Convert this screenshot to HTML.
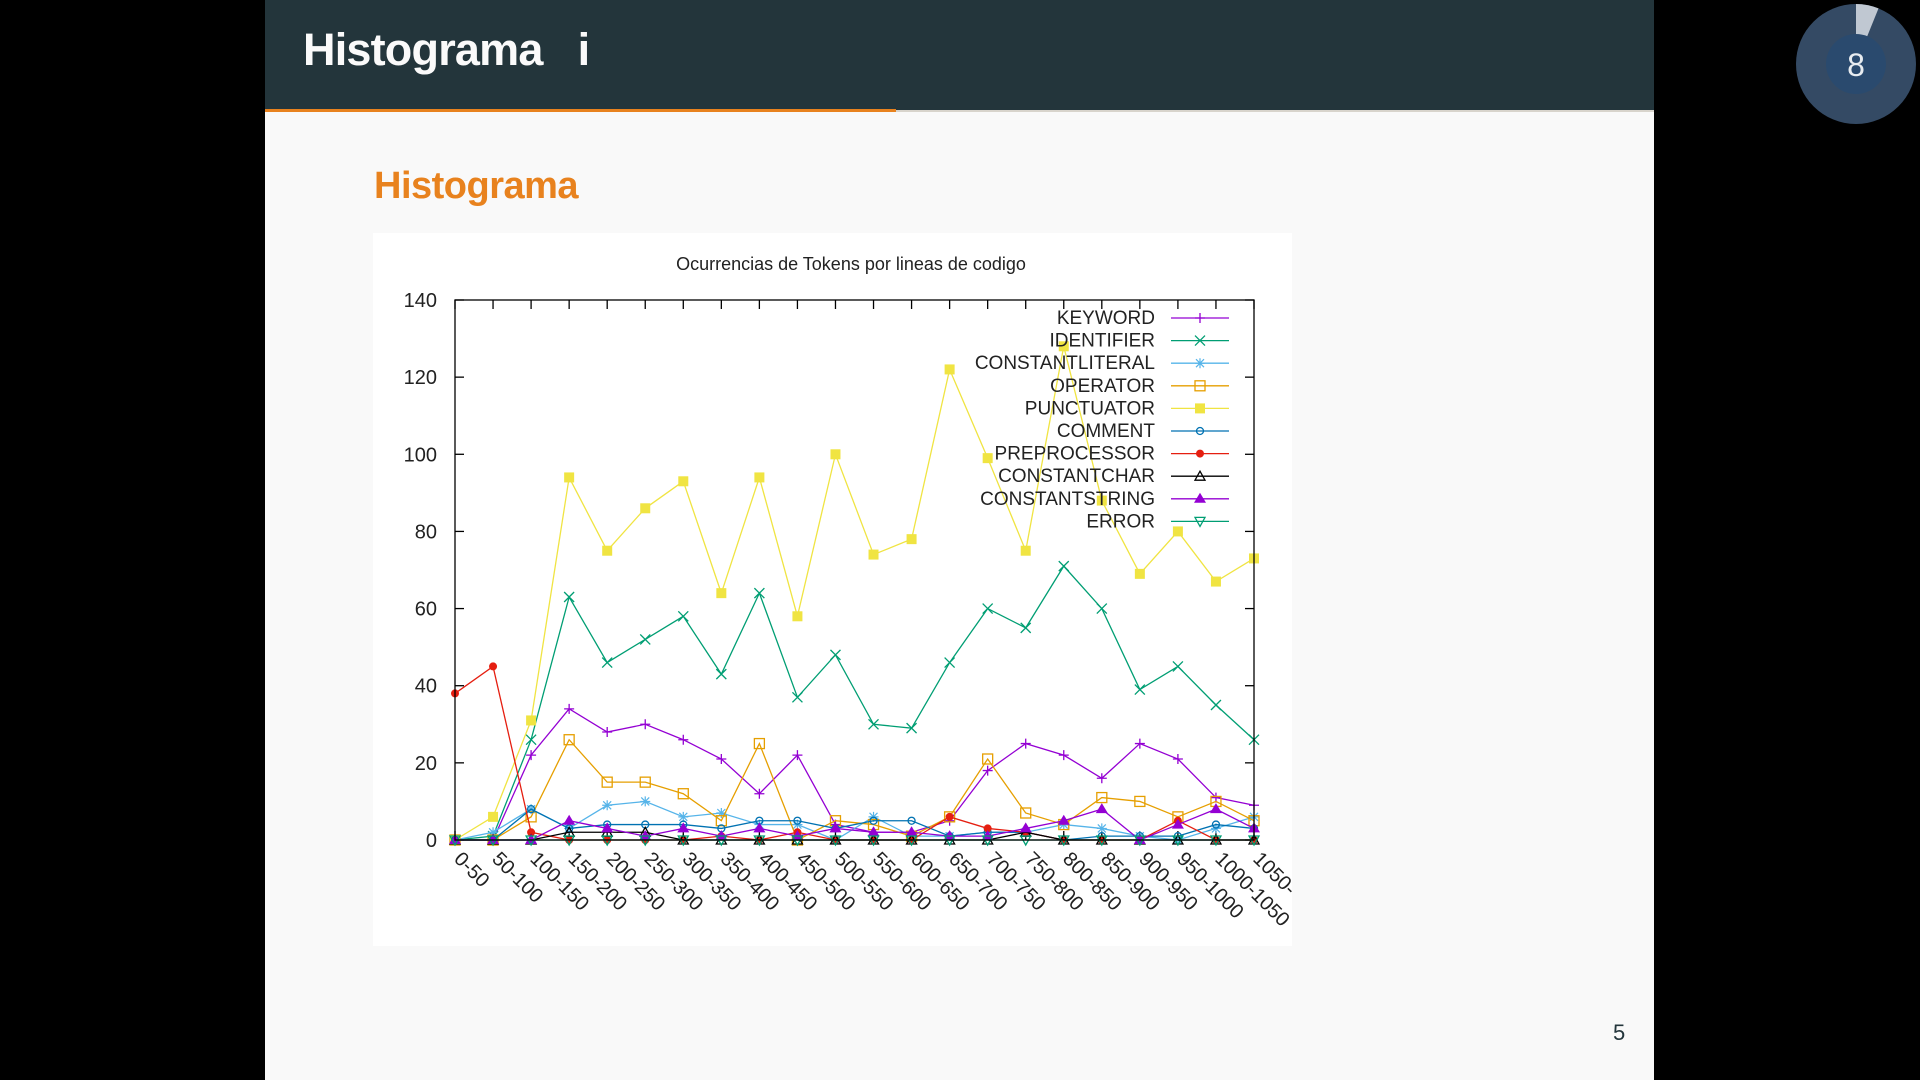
<!DOCTYPE html>
<html><head><meta charset="utf-8">
<style>
html,body{margin:0;padding:0;width:1920px;height:1080px;background:#000;overflow:hidden;font-family:"Liberation Sans","DejaVu Sans",sans-serif;}
#slide{position:absolute;left:265px;top:0;width:1389px;height:1080px;background:#f9f9f9;}
#header{position:absolute;left:0;top:0;width:1389px;height:110px;background:#23353b;}
#title{position:absolute;left:38px;top:24px;color:#fafafa;font-size:45px;font-weight:bold;letter-spacing:-0.8px;}
#rule-o{position:absolute;left:0;top:109px;width:631px;height:3px;background:#e8821e;}
#rule-g{position:absolute;left:631px;top:110px;width:758px;height:2px;background:#d8d4cc;}
#h2{position:absolute;left:109px;top:165px;color:#e8821e;font-size:38px;font-weight:bold;letter-spacing:-0.5px;}
#chartbox{position:absolute;left:108px;top:233px;width:919px;height:713px;background:#fff;}
#pnum{position:absolute;left:1348px;top:1020px;font-size:22px;color:#23353b;}
svg text{font-family:"Liberation Sans","DejaVu Sans",sans-serif;}
</style></head><body>
<div id="slide">
 <div id="header">
  <div id="title">Histograma&nbsp;&nbsp; i</div>
 </div>
 <div id="rule-o"></div>
 <div id="rule-g"></div>
 <div id="h2">Histograma</div>
 <div id="chartbox"></div>
 <div id="pnum">5</div>
</div>
<svg id="timer" width="140" height="140" style="position:absolute;left:1786px;top:-6px">
 <circle cx="70" cy="70" r="60" fill="#344a64"/>
 <path d="M70 70 L70 10 A60 60 0 0 1 92.5 14.4 Z" fill="#c0c8d2"/>
 <circle cx="70" cy="70" r="30" fill="#2a4a6e"/>
 <text x="70" y="82" text-anchor="middle" font-size="32" fill="#e8ecf0">8</text>
</svg>
<svg id="chart" width="1920" height="1080" style="position:absolute;left:0;top:0">
 <g id="g"></g>
</svg>
<script>
const categories=["0-50","50-100","100-150","150-200","200-250","250-300","300-350","350-400","400-450","450-500","500-550","550-600","600-650","650-700","700-750","750-800","800-850","850-900","900-950","950-1000","1000-1050","1050-1100"];
const seriesNames=["KEYWORD","IDENTIFIER","CONSTANTLITERAL","OPERATOR","PUNCTUATOR","COMMENT","PREPROCESSOR","CONSTANTCHAR","CONSTANTSTRING","ERROR"];
const keyword=[0,0,22,34,28,30,26,21,12,22,4,2,2,5,18,25,22,16,25,21,11,9];
const identifier=[0,1,26,63,46,52,58,43,64,37,48,30,29,46,60,55,71,60,39,45,35,26];
const constantliteral=[0,2,8,3,9,10,6,7,4,4,0,6,1,1,2,2,4,3,1,0,3,6];
const operator=[0,0,6,26,15,15,12,5,25,0,5,4,1,6,21,7,4,11,10,6,10,5];
const punctuator=[0,6,31,94,75,86,93,64,94,58,100,74,78,122,99,75,128,88,69,80,67,73];
const comment=[0,0,8,3,4,4,4,3,5,5,3,5,5,1,2,2,0,1,1,1,4,3];
const preprocessor=[38,45,2,0,0,0,0,1,0,2,0,0,0,6,3,2,0,0,0,5,0,0];
const constantchar=[0,0,0,2,2,2,0,0,0,0,0,0,0,0,0,2,0,0,0,0,0,0];
const constantstring=[0,0,0,5,3,1,3,1,3,1,3,2,2,1,1,3,5,8,0,4,8,3];
const errorSeries=[0,0,0,0,0,0,0,0,0,0,0,0,0,0,0,0,0,0,0,0,0,0];
const yTicks=[0,20,40,60,80,100,120,140];

const allSeries=[keyword,identifier,constantliteral,operator,punctuator,comment,preprocessor,constantchar,constantstring,errorSeries];
const colors=["#9400d3","#009e73","#56b4e9","#e69f00","#f0e442","#0072b2","#e51e10","#000000","#9400d3","#009e73"];
const markers=["plus","x","star","sq","fsq","circ","fcirc","tri","ftri","itri"];
const L=455,R=1254,T=300,B=840,YMAX=140;
const xs=i=>L+i*(R-L)/(categories.length-1);
const ys=v=>B-v*(B-T)/YMAX;
const NS="http://www.w3.org/2000/svg";
const g=document.getElementById('g');
function el(tag,attrs,parent){const e=document.createElementNS(NS,tag);for(const k in attrs)e.setAttribute(k,attrs[k]);(parent||g).appendChild(e);return e;}
function marker(type,x,y,c,parent){
 const s=5;let m;
 if(type==="plus"){m=el('path',{d:`M${x-s} ${y}H${x+s}M${x} ${y-s}V${y+s}`,stroke:c,'stroke-width':1.3,fill:'none'},parent);}
 else if(type==="x"){m=el('path',{d:`M${x-s} ${y-s}L${x+s} ${y+s}M${x-s} ${y+s}L${x+s} ${y-s}`,stroke:c,'stroke-width':1.3,fill:'none'},parent);}
 else if(type==="star"){m=el('path',{d:`M${x-s} ${y}H${x+s}M${x} ${y-s}V${y+s}M${x-4} ${y-4}L${x+4} ${y+4}M${x-4} ${y+4}L${x+4} ${y-4}`,stroke:c,'stroke-width':1.2,fill:'none'},parent);}
 else if(type==="sq"){m=el('rect',{x:x-5,y:y-5,width:10,height:10,stroke:c,'stroke-width':1.3,fill:'none'},parent);}
 else if(type==="fsq"){m=el('rect',{x:x-5,y:y-5,width:10,height:10,fill:c},parent);}
 else if(type==="circ"){m=el('circle',{cx:x,cy:y,r:3.5,stroke:c,'stroke-width':1.3,fill:'none'},parent);}
 else if(type==="fcirc"){m=el('circle',{cx:x,cy:y,r:4,fill:c},parent);}
 else if(type==="tri"){m=el('path',{d:`M${x} ${y-5}L${x+5} ${y+4}L${x-5} ${y+4}Z`,stroke:c,'stroke-width':1.3,fill:'none'},parent);}
 else if(type==="ftri"){m=el('path',{d:`M${x} ${y-6}L${x+6} ${y+4}L${x-6} ${y+4}Z`,fill:c},parent);}
 else {m=el('path',{d:`M${x} ${y+5}L${x+5} ${y-4}L${x-5} ${y-4}Z`,stroke:c,'stroke-width':1.3,fill:'none'},parent);}
 return m;
}
const tt=el('text',{x:851,y:270,'text-anchor':'middle','font-size':18,fill:'#222'});tt.textContent="Ocurrencias de Tokens por lineas de codigo";


yTicks.forEach(v=>{
 const y=ys(v);
 const t=el('line',{x1:L,x2:L+9,y1:y,y2:y,stroke:'#000','stroke-width':1.3});
 
 
 el('line',{x1:R-9,x2:R,y1:y,y2:y,stroke:'#000','stroke-width':1.3});
 const lb=el('text',{x:437,y:y+7,'text-anchor':'end','font-size':20,fill:'#222'});lb.textContent=v;
 
 
});
categories.forEach((c,i)=>{
 const x=xs(i);
 el('line',{x1:x,x2:x,y1:B,y2:B-9,stroke:'#000','stroke-width':1.3});
 el('line',{x1:x,x2:x,y1:T,y2:T+9,stroke:'#000','stroke-width':1.3});
 const lb=el('text',{x:x-2,y:B+20,'font-size':20,fill:'#222',transform:`rotate(45 ${x-2} ${B+20})`});
 lb.textContent=i===categories.length-1?"1050-":c;
 
 
});
allSeries.forEach((data,si)=>{
 const grp=el('g',{});
 
 
 const pts=data.map((v,i)=>xs(i)+','+ys(v)).join(' ');
 el('polyline',{points:pts,fill:'none',stroke:colors[si],'stroke-width':1.3},grp);
 data.forEach((v,i)=>{const m=marker(markers[si],xs(i),ys(v),colors[si],grp);
  
  });
});
const fr=el('rect',{x:L,y:T,width:R-L,height:B-T,fill:'none',stroke:'#000','stroke-width':1.3});


seriesNames.forEach((n,i)=>{
 const y=317+i*22.6;
 const lg=el('g',{});
 
 
 const t=el('text',{x:1155,y:y+7,'text-anchor':'end','font-size':19,fill:'#222'},lg);t.textContent=n;
 el('line',{x1:1171,x2:1229,y1:y+1,y2:y+1,stroke:colors[i],'stroke-width':1.3},lg);
 marker(markers[i],1200,y+1,colors[i],lg);
});
</script>
</body></html>
